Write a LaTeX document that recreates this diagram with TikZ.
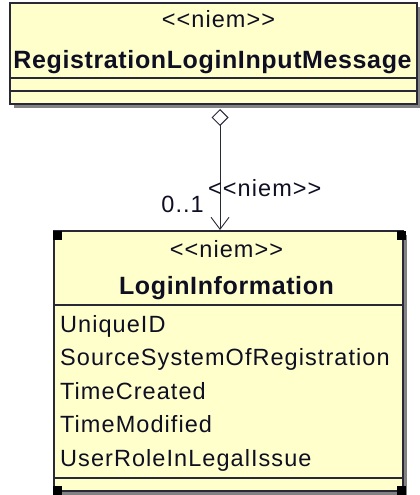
\documentclass[tikz,border=0pt]{standalone}
\usepackage{fontspec}
\setmainfont{Liberation Sans}
\newfontfamily\attrfont{Liberation Sans}[LetterSpace=4.5]
\newfontfamily\namefont{Liberation Sans}[LetterSpace=2.5]
\usetikzlibrary{arrows.meta}
\definecolor{umlfill}{RGB}{255,255,204}
\definecolor{linec}{RGB}{40,40,55}
\definecolor{textc}{RGB}{15,15,35}
\definecolor{shadowc}{RGB}{130,130,130}
\tikzset{
  umlbox/.style={draw=linec, fill=umlfill, line width=1.3pt, inner sep=0pt, outer sep=0pt, anchor=north west},
  shadowbox/.style={fill=shadowc, draw=none},
  sepline/.style={draw=linec, line width=1.3pt},
  stereo/.style={anchor=base, text=textc, inner sep=0pt, font=\attrfont\fontsize{23.5}{28}\selectfont},
  clsname/.style={anchor=base, text=textc, inner sep=0pt, font=\namefont\bfseries\fontsize{25}{30}\selectfont},
  attr/.style={anchor=base west, text=textc, inner sep=0pt, font=\attrfont\fontsize{23.5}{28}\selectfont},
  handle/.style={fill=black, draw=none},
  assoc/.style={draw=linec, line width=0.9pt,
    {Diamond[open, length=17pt, width=17pt, line width=0.9pt]}-{Straight Barb[length=12pt, width=18pt, line width=0.9pt]}},
  assoclabel/.style={text=textc, inner sep=0pt, font=\attrfont\fontsize{23.5}{28}\selectfont}
}
\begin{document}
\begin{tikzpicture}[x=1pt, y=-1pt]
\useasboundingbox (0,0) rectangle (420,495);
% top class
\fill[shadowbox] (14,7) rectangle (421,108);
\node[umlbox, minimum width=407pt, minimum height=101pt] (msg) at (10,3) {};
\draw[sepline] (10,78) -- (417,78);
\draw[sepline] (10,91) -- (417,91);
\node[stereo] (msgst) at (218.5,28) {<<niem>>};
\node[clsname] (msgname) at (212.5,68) {RegistrationLoginInputMessage};
% bottom class
\fill[shadowbox] (58,235) rectangle (407,495);
\node[umlbox, minimum width=349pt, minimum height=260pt] (login) at (54,231) {};
\draw[sepline] (54,305) -- (403,305);
\draw[sepline] (54,478) -- (403,478);
\node[stereo] (loginst) at (226.5,257) {<<niem>>};
\node[clsname] (loginname) at (226.5,294) {LoginInformation};
\node[attr] (a1) at (60,332) {UniqueID};
\node[attr] (a2) at (60,365.5) {SourceSystemOfRegistration};
\node[attr] (a3) at (60,399) {TimeCreated};
\node[attr] (a4) at (60,432.5) {TimeModified};
\node[attr] (a5) at (60,466) {UserRoleInLegalIssue};
% handles
\fill[handle] (53,231) rectangle (62,240);
\fill[handle] (397,231) rectangle (406,240);
\fill[handle] (53,486) rectangle (62,495);
\fill[handle] (397,486) rectangle (406,495);
% association
\coordinate (src) at (220,109);
\coordinate (dst) at (220,230);
\draw[assoc] (src) -- (dst);
\node[assoclabel, anchor=base east] (mult) at (204,212) {0..1};
\node[assoclabel, anchor=base west] (astereo) at (208,196) {<<niem>>};
\end{tikzpicture}
\end{document}
